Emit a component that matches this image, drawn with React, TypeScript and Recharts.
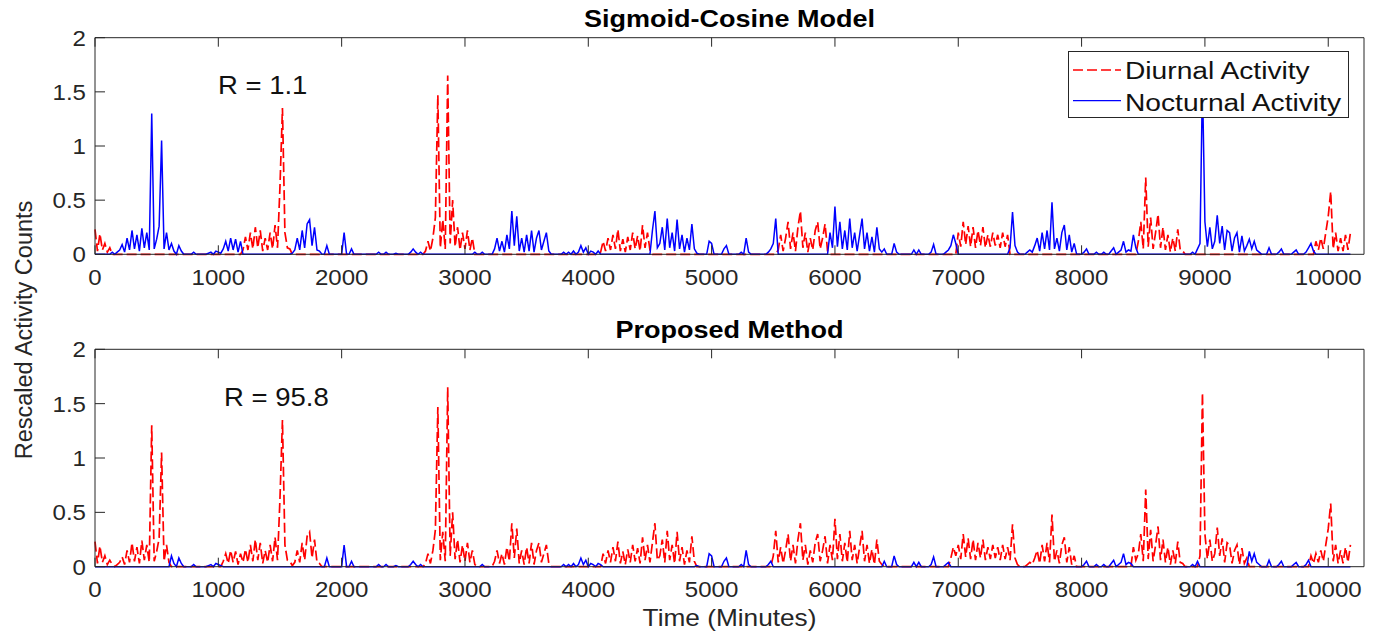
import { Legend, Line, LineChart, XAxis, YAxis } from "recharts";

// one sample every 20 minutes
const STEP = 20;
const X_MAX = 10290;
const X_TICKS = [0, 1000, 2000, 3000, 4000, 5000, 6000, 7000, 8000, 9000, 10000];
const Y_TICKS = [0, 0.5, 1, 1.5, 2];

// rescaled activity counts, 25 samples (500 minutes) per row
const activity = [
  0.23, 0.03, 0.19, 0.04, 0.1, 0.02, 0.06, 0.02, 0, 0.02, 0.04, 0.09, 0.02, 0.15, 0.04, 0.22, 0.05, 0.18, 0.03, 0.24, 0.06, 0.2, 0.04, 1.3, 0.05,
  0.14, 0.26, 1.05, 0.05, 0.2, 0.04, 0.1, 0.03, 0, 0.08, 0.03, 0, 0, 0, 0, 0.02, 0, 0, 0, 0, 0, 0.01, 0.02, 0, 0.03,
  0.02, 0.01, 0.05, 0.12, 0.03, 0.15, 0.04, 0.14, 0.02, 0.12, 0.04, 0.16, 0.04, 0.2, 0.05, 0.25, 0.06, 0.22, 0.03, 0.15, 0.04, 0.2, 0.05, 0.27, 0.06,
  0.63, 1.35, 0.2, 0.06, 0.05, 0.01, 0.04, 0.15, 0.04, 0.22, 0.06, 0.28, 0.32, 0.08, 0.25, 0.04, 0.03, 0, 0, 0.08, 0, 0, 0, 0, 0,
  0, 0.2, 0, 0, 0.05, 0, 0, 0, 0, 0, 0, 0, 0, 0, 0, 0.02, 0, 0, 0.02, 0, 0, 0, 0.01, 0, 0,
  0, 0, 0, 0.02, 0.05, 0.02, 0, 0.02, 0, 0.03, 0.12, 0.03, 0.15, 0.34, 1.47, 0.06, 0.32, 0.05, 1.65, 0.1, 0.5, 0.07, 0.25, 0.04, 0.2,
  0.05, 0.22, 0.04, 0.15, 0.02, 0, 0, 0.02, 0, 0, 0, 0, 0.05, 0.15, 0.03, 0.12, 0.02, 0.18, 0.05, 0.4, 0.08, 0.35, 0.03, 0.15, 0.02,
  0.18, 0.03, 0.22, 0.02, 0.15, 0.22, 0.04, 0.12, 0.2, 0.03, 0, 0, 0, 0, 0, 0.02, 0, 0.02, 0, 0.03, 0, 0.02, 0.08, 0.02, 0.06,
  0, 0.03, 0.02, 0, 0.03, 0.02, 0.12, 0.03, 0.15, 0.04, 0.18, 0.05, 0.23, 0.03, 0.14, 0.02, 0.16, 0.04, 0.2, 0.05, 0.17, 0.03, 0.27, 0.06, 0.2,
  0.04, 0.22, 0.4, 0.06, 0.1, 0.25, 0.04, 0.33, 0.06, 0.2, 0.03, 0.32, 0.05, 0.18, 0.02, 0.15, 0.04, 0.28, 0.05, 0.01, 0, 0, 0, 0, 0.12,
  0.1, 0, 0, 0, 0, 0.05, 0.08, 0, 0, 0, 0, 0, 0.02, 0, 0.15, 0.02, 0, 0, 0, 0, 0, 0, 0, 0.02, 0.05,
  0.1, 0.33, 0.04, 0.18, 0.03, 0.15, 0.3, 0.05, 0.2, 0.03, 0.25, 0.4, 0.06, 0.2, 0.02, 0.15, 0.04, 0.22, 0.3, 0.05, 0.15, 0.28, 0.03, 0.2, 0.06,
  0.44, 0.07, 0.3, 0.05, 0.22, 0.04, 0.33, 0.06, 0.2, 0.03, 0.18, 0.33, 0.05, 0.2, 0.03, 0.16, 0.02, 0.25, 0.05, 0.02, 0.05, 0, 0, 0, 0.1,
  0.02, 0, 0, 0, 0, 0, 0, 0.04, 0, 0.04, 0, 0, 0, 0, 0.02, 0.09, 0, 0, 0, 0, 0.02, 0.04, 0.08, 0.18, 0.1,
  0.2, 0.07, 0.3, 0.09, 0.26, 0.07, 0.25, 0.06, 0.22, 0.08, 0.25, 0.06, 0.18, 0.07, 0.2, 0.08, 0.18, 0.06, 0.2, 0.07, 0.18, 0.06, 0.39, 0.08, 0.02,
  0, 0, 0, 0.02, 0.04, 0.02, 0.08, 0.15, 0.03, 0.2, 0.05, 0.22, 0.04, 0.48, 0.05, 0.15, 0.03, 0.2, 0.27, 0.04, 0.18, 0.02, 0.1, 0, 0,
  0, 0.02, 0.05, 0, 0, 0, 0.02, 0, 0, 0.02, 0, 0, 0.03, 0.06, 0, 0.02, 0.04, 0.12, 0.02, 0.04, 0.03, 0.18, 0.06, 0.12, 0.3,
  0.05, 0.71, 0.07, 0.34, 0.05, 0.2, 0.37, 0.06, 0.25, 0.04, 0.18, 0.02, 0.15, 0.03, 0.23, 0.04, 0.03, 0, 0, 0, 0.02, 0, 0.05, 0.1, 1.6,
  0.3, 0.07, 0.25, 0.05, 0.12, 0.36, 0.1, 0.26, 0.04, 0.22, 0.2, 0.03, 0.15, 0.2, 0.02, 0.17, 0.03, 0.08, 0.14, 0.05, 0.12, 0.04, 0.02, 0, 0,
  0, 0.06, 0, 0, 0, 0.02, 0.05, 0, 0, 0, 0, 0.02, 0.04, 0, 0, 0, 0.02, 0.06, 0.1, 0.03, 0.12, 0.04, 0.15, 0.05, 0.2,
  0.35, 0.58, 0.05, 0.2, 0.03, 0.15, 0.03, 0.18, 0.04, 0.2,
];

// minute ranges each model calls diurnal; the rest is nocturnal
const sigmoidDiurnal = [
  [0, 120], [1200, 1580], [2660, 3060], [4100, 4500], [5540, 5940],
  [7000, 7400], [8460, 8820], [9900, 10180],
];
const proposedDiurnal = [
  [0, 610], [1040, 1830], [2660, 3080], [3240, 3700], [4110, 4870],
  [5500, 6380], [6940, 7480], [7560, 7960], [8420, 8830], [8960, 9350],
  [9860, 10180],
];

const SERIES = {
  day: { name: "Diurnal Activity", color: "#ff0000", dash: "10 4", width: 1.7 },
  night: { name: "Nocturnal Activity", color: "#0000ff", dash: undefined, width: 1.5 },
};

const inSpans = (t: number, spans: number[][]) => spans.some(([a, b]) => t >= a && t <= b);

const rows = activity.map((v, i) => {
  const t = i * STEP;
  const sig = inSpans(t, sigmoidDiurnal);
  const prop = inSpans(t, proposedDiurnal);
  return {
    t,
    sigDay: sig ? v : 0,
    sigNight: sig ? 0 : v,
    propDay: prop ? v : 0,
    propNight: prop ? 0 : v,
  };
});

const FONT = '"Liberation Sans", Arial, Helvetica, sans-serif';
const INK = "#262626";
// the original figure was stretched sideways
const WIDE = 1.12;
const stretch = (x: number, y: number, s = WIDE) => `translate(${x},${y}) scale(${s},1)`;

const BottomTick = ({ x, y, payload }: any) => (
  <g>
    <line x1={x} x2={x} y1={y} y2={y - 9} stroke={INK} />
    <text transform={stretch(x, y + 30.5)} textAnchor="middle" fontFamily={FONT} fontSize={21.5} fill={INK}>
      {payload.value}
    </text>
  </g>
);
const TopTick = ({ x, y }: any) => <line x1={x} x2={x} y1={y} y2={y + 9} stroke={INK} />;
const LeftTick = ({ x, y, payload }: any) => (
  <g>
    <line x1={x} x2={x + 10} y1={y} y2={y} stroke={INK} />
    <text transform={stretch(x - 9, y + 8)} textAnchor="end" fontFamily={FONT} fontSize={21.5} fill={INK}>
      {payload.value}
    </text>
  </g>
);
const RightTick = ({ x, y }: any) => <line x1={x} x2={x - 10} y1={y} y2={y} stroke={INK} />;

function LegendBox() {
  const items = [SERIES.day, SERIES.night];
  return (
    <svg width={281} height={67} style={{ display: "block" }}>
      <rect x={0.5} y={0.5} width={280} height={66} fill="#fff" stroke={INK} />
      {items.map((s, i) => (
        <g key={s.name}>
          <line x1={5} x2={53} y1={19 + i * 30.7} y2={19 + i * 30.7} stroke={s.color} strokeWidth={1.3} strokeDasharray={s.dash} />
          <text transform={stretch(57, 28.3 + i * 31.4, 1.15)} fontFamily={FONT} fontSize={24.5} fill="#111">
            {s.name}
          </text>
        </g>
      ))}
    </svg>
  );
}

// axes get 1px of room (0 would hide them); margins below are trimmed by that pixel
function Panel({ top, height, margin, dayKey, nightKey, legend }: any) {
  const axisProps = { tickSize: 0, tickMargin: 0, tickLine: false, stroke: INK, interval: 0 as const };
  return (
    <div style={{ position: "absolute", left: 0, top, width: 1381, height }}>
      <LineChart width={1381} height={height} data={rows} margin={margin}>
        <XAxis dataKey="t" type="number" domain={[0, X_MAX]} ticks={X_TICKS} height={1} tick={<BottomTick />} {...axisProps} />
        <XAxis xAxisId="top" orientation="top" dataKey="t" type="number" domain={[0, X_MAX]} ticks={X_TICKS} height={1} tick={<TopTick />} {...axisProps} />
        <YAxis type="number" domain={[0, 2]} ticks={Y_TICKS} width={1} tick={<LeftTick />} {...axisProps} />
        <YAxis yAxisId="right" orientation="right" type="number" domain={[0, 2]} ticks={Y_TICKS} width={1} tick={<RightTick />} {...axisProps} />
        <Line
          type="linear"
          dataKey={dayKey}
          name={SERIES.day.name}
          stroke={SERIES.day.color}
          strokeWidth={SERIES.day.width}
          strokeDasharray={SERIES.day.dash}
          dot={false}
          activeDot={false}
          isAnimationActive={false}
        />
        <Line
          type="linear"
          dataKey={nightKey}
          name={SERIES.night.name}
          stroke={SERIES.night.color}
          strokeWidth={SERIES.night.width}
          dot={false}
          activeDot={false}
          isAnimationActive={false}
        />
        {legend ? (
          <Legend
            layout="vertical"
            align="center"
            verticalAlign="middle"
            content={<LegendBox />}
            wrapperStyle={{ left: 1068, top: 51, width: 281, height: 67 }}
          />
        ) : null}
      </LineChart>
    </div>
  );
}

export default function App() {
  return (
    <div style={{ position: "fixed", left: 0, top: 0, width: 1381, height: 639, background: "#fff" }}>
      <Panel
        top={0}
        height={300}
        margin={{ top: 36.7, right: 16, bottom: 44.7, left: 94 }}
        dayKey="sigDay"
        nightKey="sigNight"
        legend
      />
      <Panel
        top={300}
        height={339}
        margin={{ top: 48.3, right: 16, bottom: 71.3, left: 94 }}
        dayKey="propDay"
        nightKey="propNight"
      />
      <svg width={1381} height={639} style={{ position: "absolute", left: 0, top: 0, pointerEvents: "none" }}>
        <g fontFamily={FONT}>
          <text transform={stretch(729.5, 27, 1.16)} textAnchor="middle" fontWeight="bold" fontSize={23.3} fill="#000">
            Sigmoid-Cosine Model
          </text>
          <text transform={stretch(729.5, 338, 1.16)} textAnchor="middle" fontWeight="bold" fontSize={23.3} fill="#000">
            Proposed Method
          </text>
          <text transform={stretch(218, 94, 1.1)} fontSize={25} fill="#111">
            R = 1.1
          </text>
          <text transform={stretch(224, 406, 1.1)} fontSize={25} fill="#111">
            R = 95.8
          </text>
          <text transform="translate(31.7,330) rotate(-90)" textAnchor="middle" fontSize={23.5} fill={INK}>
            Rescaled Activity Counts
          </text>
          <text transform={stretch(729.5, 626, 1.14)} textAnchor="middle" fontSize={23} fill={INK}>
            Time (Minutes)
          </text>
        </g>
      </svg>
    </div>
  );
}
